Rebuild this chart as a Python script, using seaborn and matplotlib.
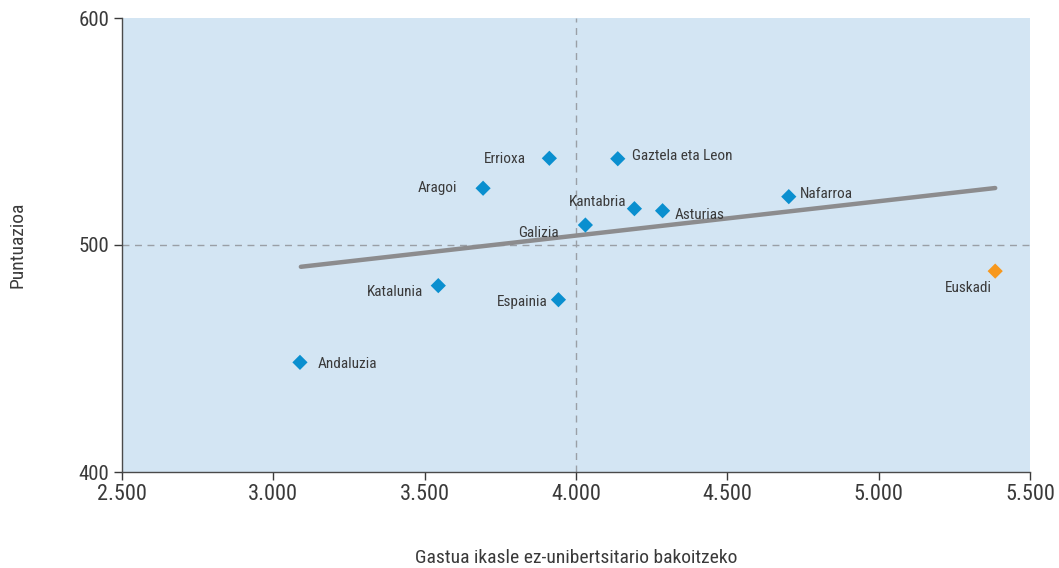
import numpy as np
import pandas as pd
import matplotlib
matplotlib.use("Agg")
import matplotlib.pyplot as plt
from matplotlib import font_manager
import seaborn as sns

# data
regions = ["Andaluzia", "Katalunia", "Aragoi", "Errioxa", "Espainia", "Galizia",
           "Gaztela eta Leon", "Kantabria", "Asturias", "Nafarroa", "Euskadi"]
spending = [3088, 3545, 3693, 3912, 3942, 4031, 4138, 4193, 4286, 4703, 5385]
score = [448.3, 482.1, 525.0, 538.2, 475.9, 508.8, 538.0, 516.0, 515.1, 521.3, 488.5]
group = ["other"] * 10 + ["Euskadi"]

trend_x = [3091, 5385]
trend_y = [490.4, 525.1]

# label offsets (pixels) and alignment per region
label_offsets = {
    "Andaluzia": (18, -2, "left"),
    "Katalunia": (-15, -6, "right"),
    "Aragoi": (-26, 0, "right"),
    "Errioxa": (-23, -1, "right"),
    "Espainia": (-11, -2, "right"),
    "Galizia": (-27, -8, "right"),
    "Gaztela eta Leon": (14, 3, "left"),
    "Kantabria": (-8, 7, "right"),
    "Asturias": (12, -4, "left"),
    "Nafarroa": (11, 3, "left"),
    "Euskadi": (-3, -17, "right"),
}

df = pd.DataFrame({"region": regions, "x": spending, "y": score, "group": group})

sns.set_style("ticks")

# pick a narrow sans if one is installed
names = {f.name for f in font_manager.fontManager.ttflist}
stretch = "normal"
family = "DejaVu Sans"
for cand in ["Roboto Condensed", "Liberation Sans Narrow", "Noto Sans Condensed",
             "Open Sans Condensed", "DejaVu Sans Condensed"]:
    if cand in names:
        family = cand
        break
else:
    conds = [f for f in font_manager.fontManager.ttflist
             if "ondensed" in f.fname and "Sans" in f.name and "Mono" not in f.name]
    if conds:
        family = conds[0].name
        stretch = "condensed"
plt.rcParams["font.family"] = [family, "DejaVu Sans"]
plt.rcParams["font.stretch"] = stretch
text_col = "#3a3a3a"

fig = plt.figure(figsize=(10.59, 5.68), dpi=100)
ax = fig.add_axes([122 / 1059, 1 - 472 / 568, 908 / 1059, 454 / 568])
ax.set_facecolor("#d3e5f3")

# reference lines
ax.axvline(4000, color="#9a9fa6", lw=1, ls=(0, (5, 4)), zorder=1)
ax.axhline(500, color="#9a9fa6", lw=1, ls=(0, (5, 4)), zorder=1)

# trend line
sns.lineplot(x=trend_x, y=trend_y, ax=ax, color="#8c8c8e", lw=3.2, zorder=2)

sns.scatterplot(data=df, x="x", y="y", hue="group", ax=ax, marker="D", s=60,
                palette={"other": "#0a8fcf", "Euskadi": "#f7981d"},
                edgecolor="none", legend=False, zorder=3)

for name, xv, yv in zip(regions, spending, score):
    dx, dy, ha = label_offsets[name]
    ax.annotate(name, (xv, yv), xytext=(dx, dy), textcoords="offset pixels",
                ha=ha, va="center", fontsize=11, color=text_col, zorder=4)

ax.set_xlim(2500, 5500)
ax.set_ylim(400, 600)
ax.set_xticks([2500, 3000, 3500, 4000, 4500, 5000, 5500])
ax.set_xticklabels(["2.500", "3.000", "3.500", "4.000", "4.500", "5.000", "5.500"])
ax.set_yticks([400, 500, 600])
ax.tick_params(axis="x", labelsize=16, colors=text_col, length=6, width=1, pad=3)
ax.tick_params(axis="y", labelsize=15, colors=text_col, length=6, width=1, pad=3)
for s in ["top", "right"]:
    ax.spines[s].set_visible(False)
for s in ["left", "bottom"]:
    ax.spines[s].set_color("#4a4a4a")
    ax.spines[s].set_linewidth(1)

ax.set_xlabel("Gastua ikasle ez-unibertsitario bakoitzeko", fontsize=14, color=text_col)
ax.set_ylabel("Puntuazioa", fontsize=14, color=text_col)
ax.xaxis.set_label_coords(0.5, -0.17)
ax.yaxis.set_label_coords(-0.105, 0.5)

fig.savefig("out.png", dpi=100)
